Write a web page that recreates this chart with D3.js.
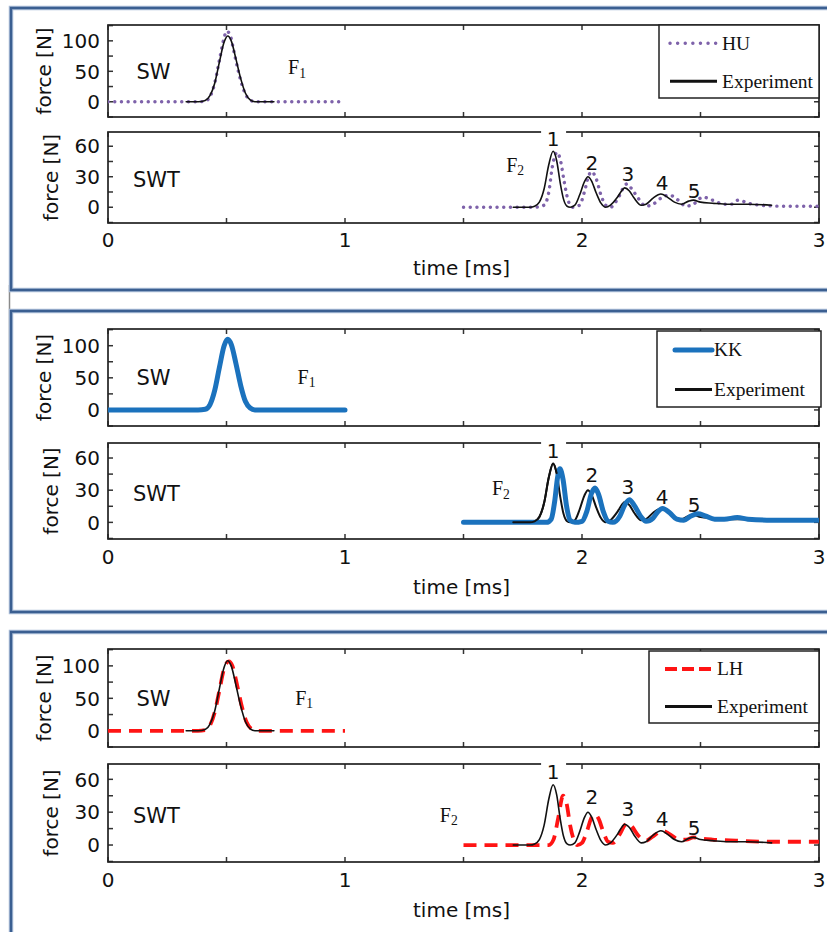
<!DOCTYPE html>
<html>
<head>
<meta charset="utf-8">
<script src="https://cdn.jsdelivr.net/npm/d3@7"></script>
<style>
  body { margin: 0; background: #fff; }
  svg { display: block; }
</style>
</head>
<body>
<svg id="chart" width="827" height="932"></svg>
<script>
// ---- data (time in ms, force in N) ----
var timeTicks = [0, 1, 2, 3];
var swTicks = [0, 50, 100];
var swtTicks = [0, 30, 60];
var peakNames = ["1", "2", "3", "4", "5"];
var peakTime = [1.878, 2.042, 2.194, 2.338, 2.473];
var peakForce = [67, 44, 33, 24, 16];
var modelNames = ["HU", "KK", "LH"];

var expSW = [[0.33,0],[0.38,0],[0.41,2],[0.43,10],[0.45,30],[0.47,65],[0.49,98],[0.505,108],[0.52,100],
  [0.54,70],[0.56,38],[0.58,14],[0.60,3],[0.62,0],[0.65,0],[0.70,0]];
var expSWT = [[1.71,0],[1.78,0],[1.80,1],[1.82,5],[1.84,18],[1.86,42],[1.878,55],[1.893,46],[1.908,24],
  [1.922,8],[1.937,1],[1.95,0],[1.97,2],[1.99,12],[2.01,25],[2.025,30],[2.04,26],[2.06,14],[2.08,4],
  [2.10,0],[2.12,2],[2.15,10],[2.17,17],[2.18,19],[2.20,16],[2.22,9],[2.25,2],[2.27,3],[2.30,9],
  [2.333,13],[2.36,10],[2.39,5],[2.42,3],[2.45,6],[2.47,7],[2.50,5],[2.55,4],[2.62,3],[2.70,3],[2.80,2]];

var huSW = [[0,0],[0.38,0],[0.41,1],[0.43,8],[0.45,30],[0.47,68],[0.49,105],[0.50,116],[0.515,110],
  [0.53,85],[0.55,50],[0.57,22],[0.59,6],[0.61,1],[0.63,0],[1.0,0]];
var huSWT = [[1.5,0],[1.80,0],[1.84,2],[1.86,15],[1.875,40],[1.895,54],[1.91,45],[1.925,25],[1.94,8],
  [1.96,0],[1.99,2],[2.01,15],[2.03,32],[2.04,35],[2.06,28],[2.08,12],[2.10,2],[2.12,0],[2.15,8],
  [2.18,21],[2.19,23],[2.21,18],[2.24,8],[2.27,1],[2.30,3],[2.34,10],[2.37,12],[2.40,8],[2.44,1],
  [2.47,3],[2.51,10],[2.55,7],[2.60,3],[2.63,3],[2.66,7],[2.70,4],[2.75,2],[2.85,1],[3.0,1]];

var kkSW = [[0,0],[0.38,0],[0.41,1],[0.43,8],[0.45,30],[0.47,66],[0.49,100],[0.505,110],[0.52,102],
  [0.54,72],[0.56,38],[0.58,13],[0.60,3],[0.62,0],[1.0,0]];
var kkSWT = [[1.5,0],[1.85,0],[1.87,3],[1.885,20],[1.897,42],[1.907,50],[1.92,40],[1.935,15],[1.95,2],
  [1.97,0],[2.00,1],[2.02,10],[2.04,27],[2.055,32],[2.07,26],[2.09,10],[2.11,1],[2.13,0],[2.16,6],
  [2.18,16],[2.20,21],[2.22,16],[2.25,5],[2.27,1],[2.30,4],[2.32,10],[2.34,13],[2.37,9],[2.40,3],
  [2.43,2],[2.46,6],[2.49,8],[2.52,6],[2.56,3],[2.60,3],[2.655,4.5],[2.70,3],[2.80,2],[2.90,2],[3.0,2]];

var lhSW = [[0,0],[0.38,0],[0.41,1],[0.43,8],[0.45,28],[0.47,62],[0.49,96],[0.51,107],[0.525,100],
  [0.545,70],[0.565,37],[0.585,13],[0.605,3],[0.63,0],[1.0,0]];
var lhSWT = [[1.5,0],[1.86,0],[1.88,5],[1.90,25],[1.92,45],[1.935,38],[1.95,18],[1.965,5],[1.98,0],
  [2.00,2],[2.02,12],[2.04,25],[2.055,28],[2.07,24],[2.09,12],[2.11,3],[2.13,2],[2.16,10],[2.18,18],
  [2.195,20],[2.21,17],[2.24,8],[2.27,4],[2.30,8],[2.34,13],[2.37,10],[2.41,5],[2.44,5],[2.47,7],
  [2.50,6],[2.55,5],[2.65,4],[2.80,3],[3.0,3]];

var modelSW = [huSW, kkSW, lhSW];
var modelSWT = [huSWT, kkSWT, lhSWT];
var f1Pos = [[0.76, 57], [0.80, 52], [0.79, 51]];
var f2Pos = [[1.68, 42], [1.62, 32], [1.40, 28]];

// ---- layout / styles ----
var xLeft = 108, xRight = 819;
var panels = [
  { frame: [8, 290], sw: [25, 117], swt: [132, 223], tickY: 240, timeY: 268, legend: [659, 25, 160, 73], lx: [11, 58, 63] },
  { frame: [311, 612], sw: [329, 426], swt: [443, 539], tickY: 557, timeY: 587, legend: [657, 331, 164, 76], lx: [18, 55, 57] },
  { frame: [632, 945], sw: [649, 747], swt: [764, 862], tickY: 880, timeY: 910, legend: [649, 651, 170, 72], lx: [16, 63, 68] }
];
var styles = [
  { stroke: "#7e62aa", width: 3.4, dash: "0.1 6.6", cap: "round", legendDash: "0.1 7.5" },
  { stroke: "#1b72bd", width: 5, dash: null, cap: "round" },
  { stroke: "#ff1414", width: 3.8, dash: "13 8", cap: "butt", legendDash: "12 5" }
];
var sans = "'DejaVu Sans', sans-serif";
var serif = "'Liberation Serif', 'Times New Roman', serif";

var svg = d3.select("#chart");
var x = d3.scaleLinear().domain([0, 3]).range([xLeft, xRight]);

// left grey edge between panels
svg.append("line")
  .attr("x1", 9.5).attr("x2", 9.5).attr("y1", 285).attr("y2", 470)
  .attr("stroke", "#8a8a8a").attr("stroke-width", 1.5);

function drawAxes(g, y, top, bottom, yTicks, minorStep, labelY, id) {
  var clipId = "clip" + id;
  g.append("clipPath").attr("id", clipId)
    .append("rect").attr("x", xLeft).attr("y", top).attr("width", xRight - xLeft).attr("height", bottom - top);

  // x ticks (inside, top and bottom)
  var xt = d3.range(0, 3.01, 0.5);
  g.selectAll(null).data(xt).enter().append("line")
    .attr("x1", d => x(d)).attr("x2", d => x(d)).attr("y1", bottom).attr("y2", bottom - 5)
    .attr("stroke", "#333").attr("stroke-width", 1.5);
  g.selectAll(null).data(xt).enter().append("line")
    .attr("x1", d => x(d)).attr("x2", d => x(d)).attr("y1", top).attr("y2", top + 5)
    .attr("stroke", "#333").attr("stroke-width", 1.5);

  // y ticks (inside, left and right)
  var d0 = y.domain();
  var yt = d3.range(Math.ceil(d0[0] / minorStep) * minorStep, d0[1], minorStep);
  g.selectAll(null).data(yt).enter().append("line")
    .attr("x1", xLeft).attr("x2", xLeft + 5).attr("y1", d => y(d)).attr("y2", d => y(d))
    .attr("stroke", "#333").attr("stroke-width", 1.5);
  g.selectAll(null).data(yt).enter().append("line")
    .attr("x1", xRight).attr("x2", xRight - 5).attr("y1", d => y(d)).attr("y2", d => y(d))
    .attr("stroke", "#333").attr("stroke-width", 1.5);

  g.selectAll(null).data(yTicks).enter().append("text")
    .attr("x", xLeft - 8).attr("y", d => y(d)).attr("dy", "0.36em")
    .attr("text-anchor", "end")
    .style("font-family", sans).style("font-size", "20px").attr("fill", "#111")
    .text(d => d);

  g.append("rect")
    .attr("x", xLeft).attr("y", top).attr("width", xRight - xLeft).attr("height", bottom - top)
    .attr("fill", "none").attr("stroke", "#222").attr("stroke-width", 1.7);

  g.append("text")
    .attr("transform", "translate(" + labelY + "," + ((top + bottom) / 2) + ") rotate(-90)")
    .attr("text-anchor", "middle").attr("dy", "0.36em")
    .style("font-family", sans).style("font-size", "20px").attr("fill", "#111")
    .text("force [N]");
  return clipId;
}

function drawLine(g, data, y, clipId, st) {
  var line = d3.line().x(d => x(d[0])).y(d => y(d[1])).curve(d3.curveMonotoneX);
  var p = g.append("path")
    .datum(data)
    .attr("clip-path", "url(#" + clipId + ")")
    .attr("d", line)
    .attr("fill", "none")
    .attr("stroke", st.stroke)
    .attr("stroke-width", st.width)
    .attr("stroke-linecap", st.cap)
    .attr("stroke-linejoin", "round");
  if (st.dash) p.attr("stroke-dasharray", st.dash);
}

function subText(g, px, py, base, sub, size) {
  var t = g.append("text").attr("x", px).attr("y", py).attr("dy", "0.36em")
    .style("font-family", serif).style("font-size", size + "px").attr("fill", "#111");
  t.append("tspan").text(base);
  t.append("tspan").attr("dy", "0.25em").style("font-size", (size * 0.68) + "px").text(sub);
}

panels.forEach(function(p, i) {
  var g = svg.append("g").attr("class", "panel");

  // panel frame
  g.append("rect")
    .attr("x", 11).attr("y", p.frame[0]).attr("width", 830).attr("height", p.frame[1] - p.frame[0])
    .attr("fill", "none").attr("stroke", "#a9bcd6").attr("stroke-width", 4.5);
  g.append("rect")
    .attr("x", 11).attr("y", p.frame[0]).attr("width", 830).attr("height", p.frame[1] - p.frame[0])
    .attr("fill", "none").attr("stroke", "#3b5f91").attr("stroke-width", 2.4);

  var ySW = d3.scaleLinear().domain([-25, 126]).range([p.sw[1], p.sw[0]]);
  var ySWT = d3.scaleLinear().domain([-15.5, 74]).range([p.swt[1], p.swt[0]]);

  var c1 = drawAxes(g, ySW, p.sw[0], p.sw[1], swTicks, 25, 44, i + "a");
  var c2 = drawAxes(g, ySWT, p.swt[0], p.swt[1], swtTicks, 15, 51, i + "b");

  var st = styles[i];
  var expStyle = { stroke: "#111", width: i === 1 ? 2 : 1.6, dash: null, cap: "round" };
  if (i === 1) {
    // thick blue model drawn over the experiment
    drawLine(g, expSW, ySW, c1, expStyle);
    drawLine(g, expSWT, ySWT, c2, expStyle);
    drawLine(g, modelSW[i], ySW, c1, st);
    drawLine(g, modelSWT[i], ySWT, c2, st);
    drawLine(g, expSWT.filter(d => d[0] < 1.9), ySWT, c2, expStyle);
  } else {
    drawLine(g, modelSW[i], ySW, c1, st);
    drawLine(g, expSW, ySW, c1, expStyle);
    drawLine(g, modelSWT[i], ySWT, c2, st);
    drawLine(g, expSWT, ySWT, c2, expStyle);
  }

  // x tick labels
  g.selectAll(null).data(timeTicks).enter().append("text")
    .attr("x", d => x(d)).attr("y", p.tickY).attr("dy", "0.36em")
    .attr("text-anchor", "middle")
    .style("font-family", sans).style("font-size", "20px").attr("fill", "#111")
    .text(d => d);
  g.append("text")
    .attr("x", 413).attr("y", p.timeY).attr("dy", "0.36em")
    .style("font-family", sans).style("font-size", "20px").attr("fill", "#111")
    .text("time [ms]");

  // annotations
  g.append("text").attr("x", x(0.12)).attr("y", ySW(50)).attr("dy", "0.36em")
    .style("font-family", sans).style("font-size", "21px").attr("fill", "#111").text("SW");
  g.append("text").attr("x", x(0.105)).attr("y", ySWT(27)).attr("dy", "0.36em")
    .style("font-family", sans).style("font-size", "21px").attr("fill", "#111").text("SWT");
  subText(g, x(f1Pos[i][0]), ySW(f1Pos[i][1]), "F", "1", 20);
  subText(g, x(f2Pos[i][0]), ySWT(f2Pos[i][1]), "F", "2", 20);

  // gap in the top border behind peak label "1"
  g.append("rect")
    .attr("x", x(peakTime[0]) - 12).attr("y", p.swt[0] - 2).attr("width", 25).attr("height", 5)
    .attr("fill", "#fff");
  g.selectAll(null).data(peakNames).enter().append("text")
    .attr("x", (d, k) => x(peakTime[k])).attr("y", (d, k) => ySWT(peakForce[k])).attr("dy", "0.36em")
    .attr("text-anchor", "middle")
    .style("font-family", sans).style("font-size", "20px").attr("fill", "#111")
    .text(d => d);

  // legend
  var L = p.legend;
  var lg = g.append("g").attr("class", "legend");
  lg.append("rect").attr("x", L[0]).attr("y", L[1]).attr("width", L[2]).attr("height", L[3])
    .attr("fill", "#fff").attr("stroke", "#222").attr("stroke-width", 1.5);
  var rows = [
    { name: modelNames[i], st: st, y: L[1] + L[3] * 0.25 },
    { name: "Experiment", st: { stroke: "#111", width: 3, dash: null, cap: "butt" }, y: L[1] + L[3] * 0.77 }
  ];
  rows.forEach(function(r) {
    var ln = lg.append("line")
      .attr("x1", L[0] + p.lx[0]).attr("x2", L[0] + p.lx[1]).attr("y1", r.y).attr("y2", r.y)
      .attr("stroke", r.st.stroke).attr("stroke-width", r.st.width)
      .attr("stroke-linecap", r.st.cap);
    if (r.st.legendDash) ln.attr("stroke-dasharray", r.st.legendDash);
    lg.append("text").attr("x", L[0] + p.lx[2]).attr("y", r.y).attr("dy", "0.33em")
      .style("font-family", serif).style("font-size", "19.5px").attr("fill", "#111")
      .text(r.name);
  });
});
</script>
</body>
</html>
